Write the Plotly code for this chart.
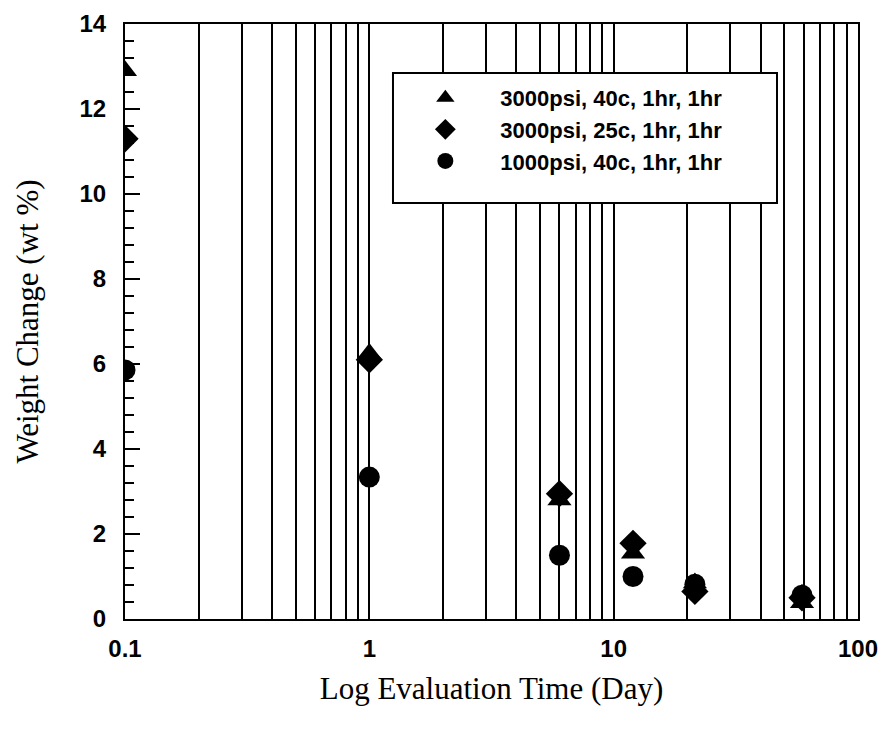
import plotly.graph_objects as go

# Evaluation time (days) and weight change (wt %) for each pressurisation condition
days = [0.1, 1, 6, 12, 21.5, 59]
series_names = [
    "3000psi, 40c, 1hr, 1hr",
    "3000psi, 25c, 1hr, 1hr",
    "1000psi, 40c, 1hr, 1hr",
]
wt_3000_40 = [12.9, 6.25, 2.8, 1.55, 0.85, 0.38]
wt_3000_25 = [11.3, 6.1, 2.95, 1.78, 0.65, 0.5]
wt_1000_40 = [5.86, 3.34, 1.5, 1.0, 0.82, 0.56]
symbols = ["triangle-up", "diamond", "circle"]

x_ticks = [0.1, 1, 10, 100]
x_tick_text = ["0.1", "1", "10", "100"]
y_ticks = [0, 2, 4, 6, 8, 10, 12, 14]

fig = go.Figure()
for name, vals, sym in zip(series_names, [wt_3000_40, wt_3000_25, wt_1000_40], symbols):
    fig.add_trace(go.Scatter(
        x=days, y=vals, mode="markers", name=f"<b>{name}</b>",
        marker=dict(symbol=sym, size=21, color="black", line=dict(width=0)),
        cliponaxis=True,
    ))

tick_font = dict(family="Liberation Sans, Arial, sans-serif", size=24, color="black")
title_font = dict(family="Liberation Serif, Times New Roman, serif", size=31, color="black")

fig.update_xaxes(
    type="log", range=[-1, 2], automargin=False,
    tickvals=x_ticks, ticktext=[f"<b>{t}</b>" for t in x_tick_text],
    tickfont=tick_font, ticks="", ticklabelstandoff=7,
    ticklabeloverflow="allow",
    showgrid=True, gridcolor="black", gridwidth=1.6,
    minor=dict(showgrid=True, gridcolor="black", gridwidth=1.6, dtick="D1", ticks=""),
    showline=True, linecolor="black", linewidth=2, mirror=True,
    title=dict(text="Log Evaluation Time (Day)", font=title_font, standoff=17),
    zeroline=False,
)
fig.update_yaxes(
    range=[0, 14], automargin=False,
    tickvals=y_ticks, ticktext=[f"<b>{v}</b>" for v in y_ticks],
    tickfont=tick_font, ticks="inside", ticklen=15, tickwidth=2, tickcolor="black",
    ticklabelstandoff=12,
    minor=dict(ticks="inside", dtick=0.4, tick0=0, ticklen=9, tickwidth=2, tickcolor="black", showgrid=False),
    showgrid=False, zeroline=False,
    showline=True, linecolor="black", linewidth=2, mirror=True,
    title=dict(text="Weight Change (wt %)", font=title_font, standoff=32),
)

# legend frame
fig.add_shape(type="rect", xref="paper", yref="paper",
              x0=0.3656, x1=0.8895, y0=0.699, y1=0.9176,
              line=dict(color="black", width=2), fillcolor="white", layer="above")

fig.update_layout(
    width=882, height=730,
    margin=dict(l=125, r=24, t=24, b=111),
    plot_bgcolor="white", paper_bgcolor="white",
    showlegend=True,
    legend=dict(
        x=0.362, y=0.911, xanchor="left", yanchor="top",
        bgcolor="rgba(0,0,0,0)", borderwidth=0,
        font=dict(family="Liberation Sans, Arial, sans-serif", size=22, color="black"),
        itemwidth=100, tracegroupgap=0,
    ),
)

fig.write_html("out.html")
